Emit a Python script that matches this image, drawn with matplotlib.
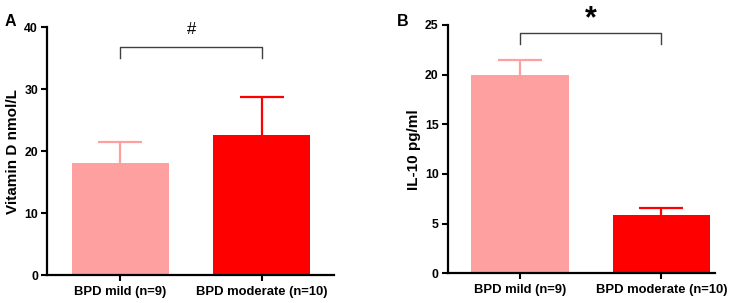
import matplotlib.pyplot as plt
import numpy as np

plt.rcParams['font.family'] = ['Liberation Sans', 'DejaVu Sans']
plt.rcParams['font.weight'] = 'bold'

# data
groups = ['BPD mild (n=9)', 'BPD moderate (n=10)']
vitd_mean = [18.0, 22.6]
vitd_err = [3.4, 6.2]
il10_mean = [20.0, 5.9]
il10_err = [1.5, 0.7]
bar_colors = ['#ffa0a0', '#ff0000']

fig = plt.figure(figsize=(7.37, 3.03), dpi=100)
ax1 = fig.add_axes([0.0638, 0.0924, 0.389, 0.818])
ax2 = fig.add_axes([0.6075, 0.098, 0.363, 0.8195])


def draw_panel(ax, means, errs, ylim, yticks, ylabel, xlim):
    x = np.arange(len(groups))
    for i in range(len(groups)):
        ax.bar(x[i], means[i], width=0.69, color=bar_colors[i], zorder=2)
        eb = ax.errorbar(x[i], means[i], yerr=[[0], [errs[i]]], color=bar_colors[i],
                         capsize=16, elinewidth=1.6, capthick=1.6, zorder=1)
        # hide the cap sitting on the bar top
        for cap in eb[1]:
            if abs(cap.get_ydata()[0] - means[i]) < 1e-9:
                cap.set_visible(False)
    ax.set_xlim(*xlim)
    ax.set_ylim(*ylim)
    ax.set_yticks(yticks)
    ax.set_xticks(x)
    ax.set_xticklabels(groups, fontsize=9.4, fontweight='bold')
    ax.tick_params(axis='y', labelsize=8.8, width=1.5, length=4, pad=2.5)
    ax.tick_params(axis='x', width=1.5, length=4, pad=4)
    for lab in ax.get_yticklabels():
        lab.set_fontweight('bold')
    ax.set_ylabel(ylabel, fontsize=11, fontweight='bold', labelpad=3)
    for s in ['top', 'right']:
        ax.spines[s].set_visible(False)
    for s in ['left', 'bottom']:
        ax.spines[s].set_linewidth(1.6)


draw_panel(ax1, vitd_mean, vitd_err, (0, 40), [0, 10, 20, 30, 40],
           'Vitamin D nmol/L', (-0.52, 1.51))
draw_panel(ax2, il10_mean, il10_err, (0, 25), [0, 5, 10, 15, 20, 25],
           'IL-10 pg/ml', (-0.51, 1.38))

# significance brackets
ax1.plot([0, 0, 1, 1], [35, 36.8, 36.8, 35], color='#404040', lw=1, clip_on=False)
ax1.text(0.5, 39.6, '#', ha='center', va='center', fontsize=12, fontweight='normal')
ax2.plot([0, 0, 1, 1], [23.1, 24.2, 24.2, 23.1], color='#404040', lw=1, clip_on=False)
ax2.text(0.5, 25.6, '*', ha='center', va='center', fontsize=22, fontweight='bold')

# panel letters
fig.text(0.006, 0.914, 'A', fontsize=11.5, fontweight='bold')
fig.text(0.539, 0.914, 'B', fontsize=11.5, fontweight='bold')

fig.savefig('out.png', dpi=100)
